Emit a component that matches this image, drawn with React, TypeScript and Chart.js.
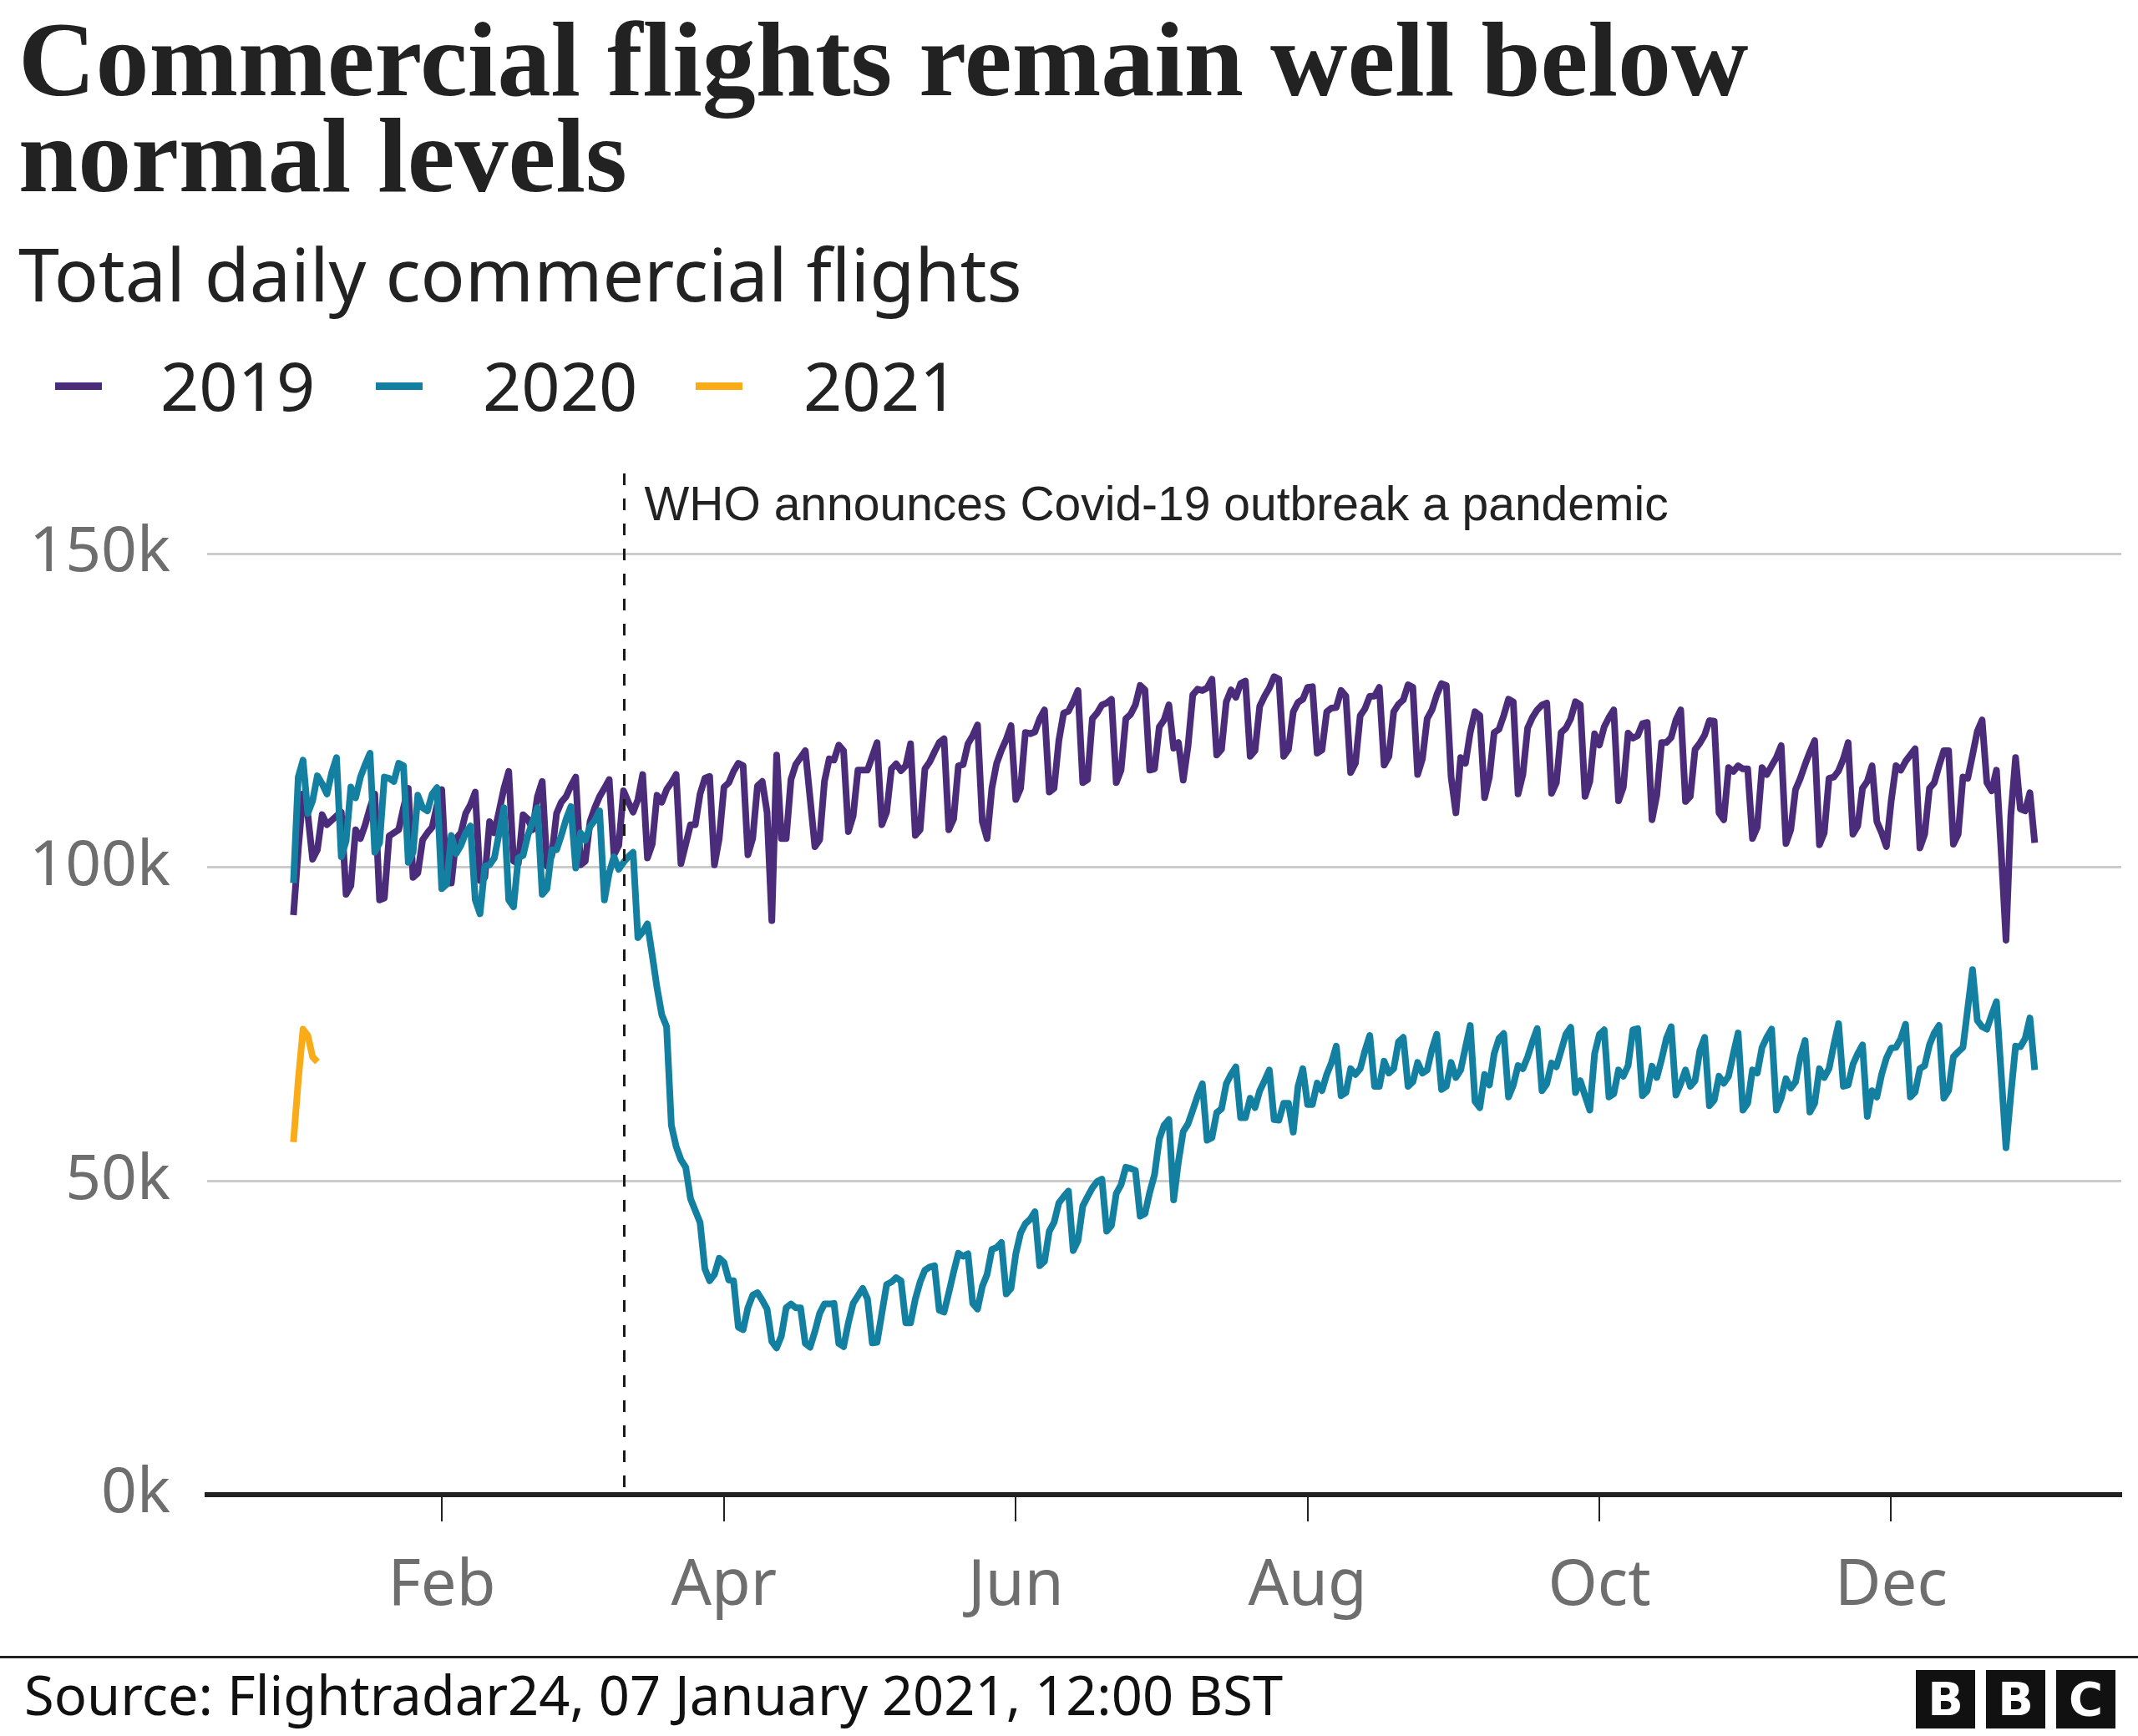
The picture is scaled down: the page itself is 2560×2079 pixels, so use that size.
import React, { useEffect, useRef } from "react";
import { Chart, registerables } from "chart.js";

Chart.register(...registerables);

// Daily commercial flights, thousands, by day of year (Jan 1 = 0)
const flights2019 = [
  92.4, 102.8, 111.7, 108.4, 101.3, 102.8, 108.4, 106.8, 107.5, 108.2,
  108.8, 95.7, 97.1, 106.0, 104.6, 106.8, 109.5, 111.7, 94.8, 95.1,
  105.0, 105.5, 106.0, 109.5, 112.6, 98.4, 99.1, 104.4, 105.5, 106.4,
  109.9, 112.4, 97.5, 97.5, 104.6, 105.5, 108.6, 110.0, 112.0, 97.9,
  98.4, 107.3, 105.5, 109.0, 112.6, 115.3, 101.0, 100.6, 108.4, 107.7,
  106.0, 111.3, 113.7, 100.2, 101.9, 108.6, 110.4, 111.3, 113.0, 114.4,
  100.4, 101.0, 107.3, 109.5, 111.3, 112.6, 114.0, 102.0, 103.5, 112.2,
  110.4, 108.8, 110.8, 114.8, 101.5, 103.7, 111.5, 110.4, 112.4, 113.5,
  114.8, 100.6, 103.7, 106.8, 106.8, 111.7, 114.2, 114.5, 100.4, 104.6,
  112.8, 113.5, 115.3, 116.6, 116.2, 102.0, 104.6, 113.0, 113.7, 108.8,
  91.5, 117.9, 104.6, 104.6, 114.0, 116.4, 117.5, 118.6, 111.0, 103.3,
  104.4, 113.7, 117.3, 117.1, 119.5, 118.6, 105.7, 108.2, 115.5, 115.5,
  115.5, 117.7, 119.9, 106.8, 108.8, 115.7, 116.5, 115.4, 116.2, 119.7,
  105.1, 106.0, 115.7, 116.8, 118.4, 119.9, 120.5, 106.0, 107.7, 116.2,
  116.4, 119.7, 121.0, 122.7, 107.3, 104.6, 112.6, 116.6, 118.7, 120.4,
  122.6, 110.8, 112.6, 121.5, 121.3, 121.6, 123.7, 125.1, 112.0, 112.6,
  120.2, 124.6, 124.9, 126.4, 128.2, 113.5, 114.0, 123.7, 124.6, 125.9,
  126.2, 126.8, 113.5, 115.5, 123.7, 124.4, 125.9, 129.0, 128.3, 115.5,
  115.7, 122.4, 123.5, 125.9, 119.0, 119.9, 113.9, 119.3, 127.5, 128.4,
  128.2, 128.6, 130.0, 117.9, 118.8, 126.4, 128.3, 127.1, 129.3, 129.7,
  117.7, 118.6, 125.7, 127.3, 128.6, 130.4, 130.0, 117.7, 118.8, 124.8,
  126.3, 126.8, 128.7, 128.8, 118.2, 118.7, 124.8, 125.4, 125.5, 128.2,
  127.3, 115.1, 116.6, 124.2, 125.3, 127.3, 127.3, 128.7, 116.3, 117.7,
  124.8, 126.0, 126.7, 129.1, 128.7, 114.8, 117.3, 123.7, 125.1, 127.5,
  129.3, 129.0, 114.4, 108.7, 117.5, 116.6, 121.5, 124.8, 124.2, 111.1,
  114.4, 121.5, 122.0, 124.2, 126.8, 126.4, 111.7, 114.8, 122.2, 123.9,
  125.1, 125.9, 126.2, 111.8, 113.5, 121.5, 122.2, 123.7, 126.4, 125.9,
  111.3, 113.7, 121.3, 119.5, 122.4, 123.9, 125.1, 110.6, 112.8, 121.4,
  120.6, 121.0, 122.9, 123.1, 107.6, 111.5, 119.9, 119.9, 120.7, 123.5,
  125.1, 110.5, 111.3, 118.8, 119.8, 121.1, 123.4, 123.3, 108.7, 107.6,
  115.9, 115.3, 116.2, 115.7, 115.7, 104.6, 106.4, 115.9, 114.8, 116.2,
  117.5, 119.4, 103.8, 106.0, 112.4, 114.2, 116.4, 118.4, 120.2, 103.6,
  105.5, 114.2, 114.4, 115.4, 117.3, 119.9, 105.3, 106.6, 112.6, 113.7,
  116.2, 107.3, 105.5, 103.3, 110.6, 116.2, 115.5, 116.9, 117.9, 118.9,
  103.1, 105.3, 112.6, 113.5, 116.2, 118.6, 118.6, 103.7, 105.3, 114.4,
  114.2, 117.9, 121.7, 123.5, 113.5, 112.2, 115.5, 102.4, 88.4, 108.2,
  117.5, 109.3, 109.0, 111.9, 103.9,
];

const flights2020 = [
  97.5, 114.4, 117.1, 108.6, 110.6, 114.6, 113.3, 111.7, 115.1, 117.5,
  101.7, 104.2, 112.8, 111.1, 114.4, 116.4, 118.2, 102.4, 103.9, 114.4,
  114.2, 113.7, 116.6, 116.2, 100.8, 102.4, 111.5, 109.5, 109.0, 111.7,
  112.7, 96.6, 97.3, 105.1, 102.2, 103.5, 105.5, 106.6, 94.8, 92.6,
  100.2, 100.4, 101.5, 105.5, 109.5, 94.8, 93.7, 101.5, 101.9, 105.1,
  107.3, 109.5, 95.7, 96.6, 102.8, 102.8, 105.1, 107.7, 109.7, 99.9,
  105.5, 104.3, 106.5, 107.5, 109.0, 94.8, 99.1, 101.7, 99.7, 100.8,
  101.7, 102.4, 88.8, 89.7, 91.0, 86.0, 80.8, 76.5, 74.6, 58.9,
  55.5, 53.4, 52.2, 47.2, 45.3, 43.4, 36.0, 34.1, 35.1, 37.7,
  37.0, 34.2, 34.1, 26.7, 26.3, 29.8, 31.8, 32.2, 31.0, 29.6,
  24.4, 23.4, 25.3, 29.8, 30.4, 29.8, 29.8, 24.1, 23.5, 26.0,
  28.9, 30.4, 30.4, 30.5, 24.1, 23.6, 27.4, 30.5, 31.7, 32.9,
  31.2, 24.2, 24.3, 28.9, 33.5, 33.9, 34.6, 34.1, 27.4, 27.4,
  31.2, 33.9, 35.8, 36.3, 36.5, 29.4, 29.1, 32.2, 35.5, 38.5,
  38.0, 38.4, 30.5, 29.6, 33.2, 35.1, 39.1, 39.4, 40.2, 32.0,
  32.9, 38.4, 41.7, 43.2, 43.9, 45.1, 36.5, 37.2, 42.0, 43.4,
  46.5, 47.5, 48.4, 38.9, 40.5, 46.0, 47.5, 48.9, 49.9, 50.3,
  42.0, 42.9, 48.0, 49.4, 52.2, 52.0, 51.7, 44.4, 44.8, 48.2,
  51.0, 56.7, 58.9, 59.8, 47.0, 53.1, 57.9, 59.1, 61.3, 63.6,
  65.5, 56.5, 56.9, 60.9, 61.5, 65.5, 67.0, 68.2, 60.1, 60.1,
  63.2, 61.7, 64.4, 66.0, 67.7, 59.8, 59.7, 62.4, 62.4, 57.8,
  65.1, 67.9, 62.2, 62.2, 65.6, 64.4, 67.0, 68.9, 71.5, 63.6,
  64.1, 67.9, 67.0, 67.9, 70.8, 73.2, 65.1, 65.1, 69.1, 67.2,
  67.9, 72.2, 72.9, 65.1, 65.8, 68.9, 67.2, 67.7, 71.0, 73.4,
  64.6, 65.1, 68.9, 66.5, 67.7, 71.3, 74.8, 62.7, 61.7, 67.0,
  65.3, 70.3, 72.7, 73.5, 63.4, 65.3, 68.4, 67.9, 69.8, 72.2,
  74.3, 64.4, 65.5, 68.8, 68.2, 70.8, 73.4, 74.5, 64.1, 66.0,
  63.6, 61.3, 70.3, 73.4, 74.1, 63.4, 63.9, 67.7, 66.7, 68.4,
  74.1, 74.3, 63.6, 64.4, 68.3, 66.5, 69.4, 72.7, 74.6, 63.7,
  65.5, 67.7, 65.1, 66.0, 70.8, 72.9, 62.0, 62.9, 66.7, 65.6,
  66.7, 70.3, 73.6, 61.3, 62.4, 67.7, 67.2, 71.3, 72.9, 74.2,
  61.3, 63.2, 66.3, 64.8, 65.8, 69.8, 72.4, 61.0, 62.4, 67.9,
  66.5, 67.9, 71.7, 75.1, 65.1, 65.3, 68.6, 70.3, 71.7, 60.3,
  64.4, 63.4, 67.0, 69.6, 71.2, 71.3, 72.7, 75.0, 63.4, 64.2,
  67.9, 68.4, 71.7, 73.6, 74.8, 63.2, 64.4, 69.8, 70.6, 71.3,
  77.5, 83.7, 75.6, 74.6, 74.2, 76.5, 78.6, 67.0, 55.3, 63.7,
  71.5, 71.4, 72.7, 76.0, 67.7,
];

const flights2021 = [56.2, 66.0, 74.2, 73.2, 69.8, 69.0];

const seriesLabels = ["2019", "2020", "2021"];
const seriesColors = ["#4b2c7a", "#1380a1", "#faab18"];
const seriesValues = [flights2019, flights2020, flights2021];

const monthTickDays = [31, 90, 151, 212, 273, 334];
const monthTickLabels = ["Feb", "Apr", "Jun", "Aug", "Oct", "Dec"];
const yTickValues = [0, 50, 100, 150];

const whoDay = 69;
const whoLabel = "WHO announces Covid-19 outbreak a pandemic";

const titleLines = ["Commercial flights remain well below", "normal levels"];
const subtitle = "Total daily commercial flights";
const sourceText = "Source: Flightradar24, 07 January 2021, 12:00 BST";

const whoPlugin = {
  id: "whoAnnotation",
  afterDatasetsDraw(chart: any) {
    const { ctx, chartArea } = chart;
    const xs = chart.scales.x;
    const px = Math.round(xs.getPixelForValue(whoDay)) + 0.5;
    ctx.save();
    ctx.strokeStyle = "#1a1a1a";
    ctx.lineWidth = 3;
    ctx.setLineDash([14, 16]);
    ctx.beginPath();
    ctx.moveTo(px, 27);
    ctx.lineTo(px, chartArea.bottom);
    ctx.stroke();
    ctx.setLineDash([]);
    ctx.font = '57px "Liberation Sans", Arial, sans-serif';
    ctx.fillStyle = "#222222";
    ctx.textBaseline = "alphabetic";
    ctx.textAlign = "left";
    ctx.fillText(whoLabel, px + 24, 83);
    ctx.restore();
  },
};

function ChartCanvas() {
  const ref = useRef<HTMLCanvasElement | null>(null);
  useEffect(() => {
    if (!ref.current) return;
    const chart = new Chart(ref.current, {
      type: "line",
      data: {
        datasets: seriesValues.map((vals, i) => ({
          label: seriesLabels[i],
          data: vals.map((v, d) => ({ x: d, y: v })),
          borderColor: seriesColors[i],
          backgroundColor: seriesColors[i],
          borderWidth: 8,
          pointRadius: 0,
          tension: 0,
          fill: false,
          borderJoinStyle: "round" as const,
          borderCapStyle: "butt" as const,
          order: 3 - i,
        })),
      },
      options: {
        animation: false,
        responsive: false,
        devicePixelRatio: 1,
        layout: { padding: { top: 48, right: 20, left: 0, bottom: 0 } },
        plugins: {
          legend: { display: false },
          tooltip: { enabled: false },
        },
        scales: {
          x: {
            type: "linear",
            min: -18.05,
            max: 382.1,
            afterBuildTicks: (s: any) => {
              s.ticks = monthTickDays.map((v) => ({ value: v }));
            },
            afterFit: (s: any) => {
              s.height = 170;
            },
            grid: {
              drawOnChartArea: false,
              drawTicks: true,
              tickLength: 32,
              color: "#222222",
              lineWidth: 2,
            },
            border: { display: true, color: "#222222", width: 6 },
            ticks: {
              autoSkip: false,
              maxRotation: 0,
              padding: 40,
              color: "#6e6e6e",
              font: { family: "'Noto Sans', sans-serif", size: 76, lineHeight: 1 },
              callback: (_v: any, i: number) => monthTickLabels[i],
            },
          },
          y: {
            min: 0,
            max: 160,
            afterBuildTicks: (s: any) => {
              s.ticks = yTickValues.map((v) => ({ value: v }));
            },
            afterFit: (s: any) => {
              s.width = 248;
            },
            grid: {
              color: "#cccccc",
              lineWidth: 3,
              drawTicks: true,
              tickLength: 44,
              tickColor: "rgba(0,0,0,0)",
            },
            border: { display: false },
            ticks: {
              padding: 0,
              color: "#6e6e6e",
              font: { family: "'Noto Sans', sans-serif", size: 75, lineHeight: 1 },
              callback: (v: any) => `${v}k`,
            },
          },
        },
      },
      plugins: [whoPlugin],
    });
    return () => chart.destroy();
  }, []);
  return (
    <canvas
      ref={ref}
      width={2560}
      height={1420}
      style={{ position: "absolute", left: 0, top: 540, width: 2560, height: 1420 }}
    />
  );
}

export default function App() {
  const legendMarkerX = [66, 450, 833];
  const legendTextX = [192, 578, 962];
  return (
    <div
      style={{
        position: "absolute",
        left: 0,
        top: 0,
        width: 2560,
        height: 2079,
        background: "#ffffff",
        overflow: "hidden",
        color: "#222222",
      }}
    >
      {titleLines.map((t, i) => (
        <div
          key={t}
          style={{
            position: "absolute",
            left: 22,
            top: 14 + i * 115,
            fontFamily: "'Liberation Serif', serif",
            fontWeight: 700,
            fontSize: 128,
            lineHeight: "115px",
            whiteSpace: "nowrap",
          }}
        >
          {t}
        </div>
      ))}
      <div
        style={{
          position: "absolute",
          left: 22,
          top: 283,
          fontFamily: "'Noto Sans', sans-serif",
          fontSize: 88,
          lineHeight: "88px",
          whiteSpace: "nowrap",
        }}
      >
        {subtitle}
      </div>
      {seriesLabels.map((lab, i) => (
        <React.Fragment key={lab}>
          <div
            style={{
              position: "absolute",
              left: legendMarkerX[i],
              top: 458,
              width: 56,
              height: 9,
              background: seriesColors[i],
            }}
          />
          <div
            style={{
              position: "absolute",
              left: legendTextX[i],
              top: 420,
              fontFamily: "'Noto Sans', sans-serif",
              fontSize: 81,
              lineHeight: "81px",
              whiteSpace: "nowrap",
            }}
          >
            {lab}
          </div>
        </React.Fragment>
      ))}
      <ChartCanvas />
      <div
        style={{
          position: "absolute",
          left: 0,
          top: 1983,
          width: 2560,
          height: 3,
          background: "#222222",
        }}
      />
      <div
        style={{
          position: "absolute",
          left: 29,
          top: 1997,
          fontFamily: "'Noto Sans', sans-serif",
          fontSize: 65,
          lineHeight: "65px",
          whiteSpace: "nowrap",
          color: "#111111",
        }}
      >
        {sourceText}
      </div>
      {["B", "B", "C"].map((ch, i) => (
        <div
          key={i}
          style={{
            position: "absolute",
            left: 2294 + i * 84,
            top: 2000,
            width: 71,
            height: 70,
            background: "#111111",
            color: "#ffffff",
            display: "flex",
            alignItems: "center",
            justifyContent: "center",
            fontFamily: "'DejaVu Sans', sans-serif",
            fontWeight: 700,
            fontSize: 56,
            lineHeight: "70px",
          }}
        >
          {ch}
        </div>
      ))}
    </div>
  );
}
